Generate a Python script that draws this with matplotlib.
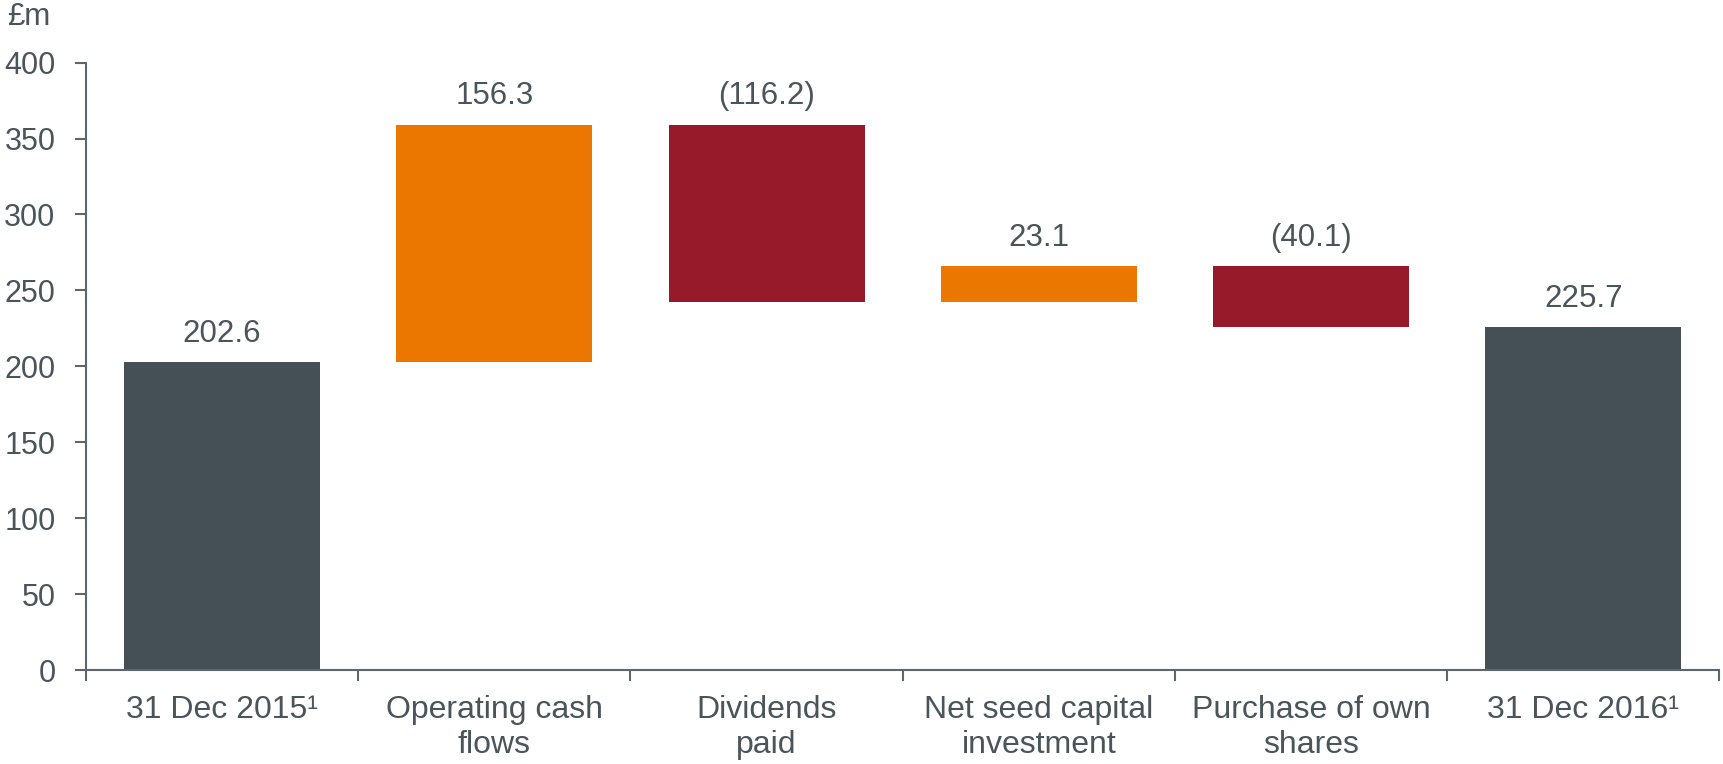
import matplotlib.pyplot as plt
import numpy as np

plt.rcParams['font.family'] = ['Liberation Sans', 'DejaVu Sans']

categories = ['31 Dec 2015\u00b9', 'Operating cash\nflows', 'Dividends\npaid',
              'Net seed capital\ninvestment', 'Purchase of own\nshares', '31 Dec 2016\u00b9']
changes = [202.6, 156.3, -116.2, 23.1, -40.1]
closing = 225.7
kinds = ['total', 'up', 'down', 'up', 'down', 'total']

text_col = '#4a545b'
axis_col = '#5c666c'
colours = {'total': '#454f56', 'up': '#ec7700', 'down': '#961a29'}

# build waterfall bottoms / heights
bottoms, heights, labels = [], [], []
running = 0.0
for i, c in enumerate(changes):
    if kinds[i] == 'total':
        bottoms.append(0)
        heights.append(c)
        labels.append(f'{c:.1f}')
    else:
        bottoms.append(min(running, running + c))
        heights.append(abs(c))
        labels.append(f'{c:.1f}' if c > 0 else f'({abs(c):.1f})')
    running += c
bottoms.append(0)
heights.append(closing)
labels.append(f'{closing:.1f}')

fig = plt.figure(figsize=(17.23, 7.64), dpi=100)
ax = fig.add_axes([0.0499, 0.123, 0.948, 0.795])

x = np.arange(len(categories))
ax.bar(x, heights, bottom=bottoms, width=0.72,
       color=[colours[k] for k in kinds])

for xi, b, h, lab in zip(x, bottoms, heights, labels):
    ax.text(xi, b + h + 9, lab, ha='center', va='bottom', fontsize=22.5, color=text_col)

ax.set_xlim(-0.5, 5.5)
ax.set_ylim(0, 400)
ax.set_yticks(np.arange(0, 401, 50))
ax.set_xticks(x)
ax.set_xticklabels(categories)
ax.set_xticks(np.arange(-0.5, 5.6, 1), minor=True)

ax.tick_params(axis='y', labelsize=22, labelcolor=text_col, color=axis_col,
               length=8, width=1.5, pad=14)
ax.tick_params(axis='x', which='major', length=0, labelsize=23,
               labelcolor=text_col, pad=18)
ax.tick_params(axis='x', which='minor', length=8, width=1.5, color=axis_col)

for s in ['top', 'right']:
    ax.spines[s].set_visible(False)
for s in ['left', 'bottom']:
    ax.spines[s].set_color(axis_col)
    ax.spines[s].set_linewidth(1.5)

fig.text(0.004, 0.978, '\u00a3m', fontsize=22.5, color=text_col, ha='left', va='center')

fig.savefig('out.png', dpi=100)
